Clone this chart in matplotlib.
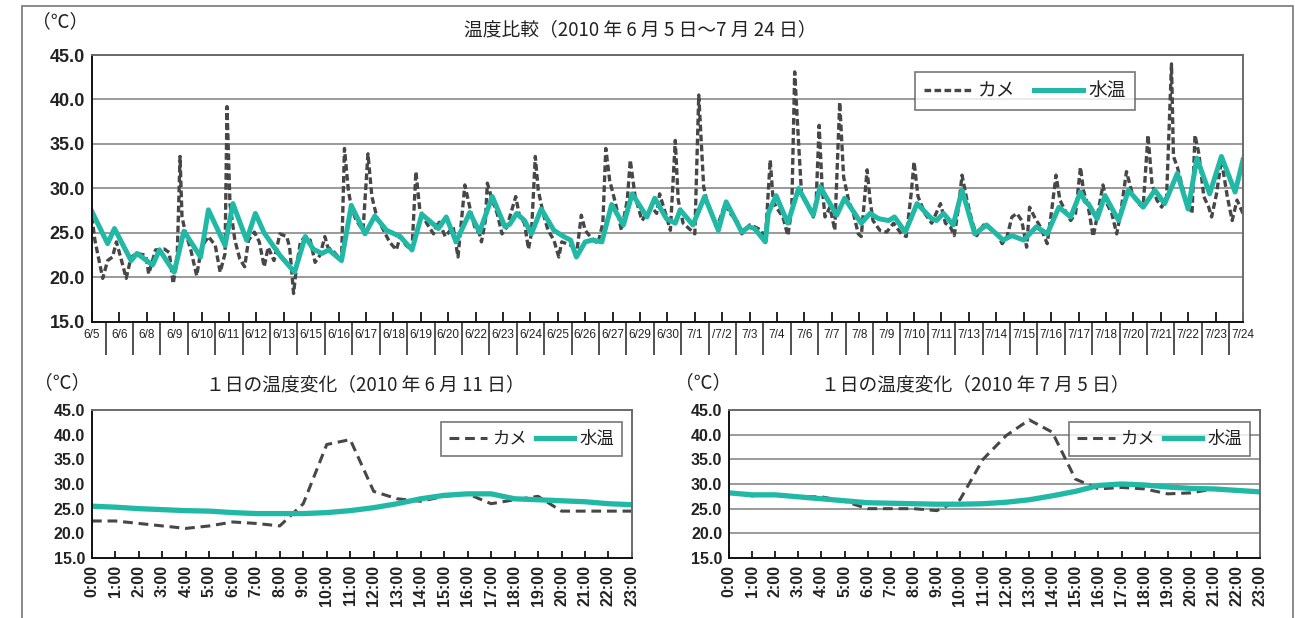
# %% import
import numpy as np
import matplotlib.pyplot as plt
from matplotlib.patches import Rectangle

plt.rcParams["font.family"] = ["Noto Sans CJK JP", "DejaVu Sans"]
plt.rcParams["figure.dpi"] = 100
plt.rcParams["figure.facecolor"] = "white"

KAME = "#474747"
WATER = "#22b8a6"
NUM = "Liberation Sans"

# %% data: 6/5 - 7/24 (hours from 6/5 0:00)
date_labels = ["6/5", "6/6", "6/8", "6/9", "6/10", "6/11", "6/12", "6/13", "6/15", "6/16",
               "6/17", "6/18", "6/19", "6/20", "6/22", "6/23", "6/24", "6/25", "6/26", "6/27",
               "6/29", "6/30", "7/1", "/7/2", "7/3", "7/4", "7/6", "7/7", "7/8", "7/9",
               "7/10", "7/11", "7/13", "7/14", "7/15", "7/16", "7/17", "7/18", "7/20", "7/21",
               "7/22", "7/23", "7/24"]
label_step = 28

kame_h = [0, 3, 11, 16, 21, 25, 30, 35, 40, 46, 55, 58, 65, 74, 79, 83, 87, 90, 92, 95,
          101, 107, 112, 119, 126, 131, 136, 138, 141, 146, 151, 156, 160, 166, 171, 176, 180, 186, 192, 199,
          202, 206, 209, 213, 218, 223, 228, 233, 238, 241, 247, 255, 258, 262, 265, 270, 277, 282, 286, 291,
          298, 304, 311, 315, 321, 327, 331, 335, 342, 349, 354, 361, 369, 374, 381, 386, 391, 396, 398, 402,
          404, 409, 414, 419, 424, 433, 437, 442, 446, 449, 453, 456, 461, 466, 472, 477, 480, 490, 495, 500,
          504, 509, 517, 522, 525, 529, 535, 541, 547, 550, 555, 562, 572, 577, 580, 586, 591, 596, 599, 604,
          616, 620, 623, 625, 628, 633, 638, 641, 647, 652, 659, 664, 672, 677, 684, 688, 693, 696, 699, 706,
          711, 715, 718, 722, 725, 730, 737, 740, 743, 746, 749, 754, 759, 764, 768, 773, 778, 783, 786, 792,
          795, 798, 805, 812, 819, 827, 832, 837, 840, 844, 851, 858, 867, 872, 877, 881, 885, 889, 894, 899,
          904, 911, 918, 925, 930, 935, 940, 945, 950, 955, 958, 963, 969, 976, 981, 985, 989, 994, 1000, 1005,
          1010, 1013, 1018, 1023, 1027, 1033, 1037, 1042, 1047, 1051, 1057, 1063, 1069, 1074, 1079, 1083, 1088, 1093, 1098, 1103,
          1105, 1109, 1114, 1119, 1124, 1127, 1131, 1136, 1141, 1144, 1149, 1154, 1160, 1165, 1170, 1176]
kame_t = [26.8, 24.2, 19.9, 21.9, 22.3, 24.0, 22.0, 19.9, 22.3, 22.7, 22.5, 20.4, 23.1, 23.2, 22.8, 19.3, 21.9, 33.6, 26.8, 25.3,
          23.1, 20.2, 23.4, 24.6, 23.6, 20.6, 22.7, 39.2, 28.3, 24.2, 22.1, 21.2, 24.2, 25.1, 24.0, 21.2, 23.4, 21.9, 24.9, 24.6,
          23.4, 18.2, 21.2, 24.0, 24.6, 24.2, 21.7, 22.5, 24.6, 23.4, 22.9, 21.9, 34.5, 29.8, 27.9, 26.4, 25.3, 33.9, 29.1, 26.8,
          25.3, 24.0, 23.1, 24.6, 23.6, 23.1, 31.9, 27.6, 26.1, 24.9, 26.4, 24.6, 25.7, 22.3, 30.4, 27.9, 25.7, 24.9, 24.0, 26.4,
          30.6, 28.7, 27.2, 24.9, 25.7, 29.1, 26.8, 26.1, 23.2, 24.9, 33.6, 29.8, 27.2, 25.3, 24.2, 22.3, 24.0, 23.6, 22.5, 27.0,
          25.3, 24.6, 23.8, 26.1, 34.5, 30.9, 28.3, 25.3, 28.7, 33.2, 29.1, 26.4, 27.9, 27.2, 29.4, 27.2, 25.3, 35.4, 28.7, 26.1,
          24.9, 40.5, 34.3, 30.2, 28.7, 27.2, 25.7, 26.4, 28.3, 27.2, 26.4, 24.9, 25.9, 25.7, 25.3, 24.2, 33.2, 28.7, 27.9, 26.8,
          24.7, 27.6, 43.1, 35.1, 29.4, 28.3, 26.8, 28.7, 37.1, 30.2, 26.8, 27.9, 25.3, 39.7, 31.3, 28.7, 27.2, 24.9, 24.6, 32.1,
          28.7, 26.4, 25.3, 25.1, 26.1, 24.9, 24.6, 29.4, 33.0, 29.1, 27.2, 26.1, 28.3, 26.1, 25.7, 24.7, 27.6, 31.5, 28.7, 26.4,
          24.7, 25.9, 25.5, 24.9, 23.8, 24.6, 26.8, 27.2, 26.4, 23.4, 27.9, 26.8, 25.7, 23.8, 27.9, 31.5, 28.7, 27.6, 26.4, 27.2,
          32.4, 29.8, 27.9, 24.6, 26.8, 30.4, 28.3, 27.2, 24.9, 27.2, 31.9, 29.4, 28.3, 27.9, 36.0, 30.6, 28.7, 27.9, 29.1, 44.0,
          33.6, 32.4, 30.2, 28.3, 27.2, 36.0, 33.9, 29.1, 27.9, 26.8, 29.4, 33.2, 29.1, 26.4, 28.7, 27.2]

water_h = [0, 16, 23, 40, 46, 62, 69, 84, 94, 111, 119, 136, 144, 158, 167, 176, 192, 207, 218, 226,
           235, 242, 255, 265, 279, 289, 301, 315, 327, 337, 354, 362, 372, 386, 396, 409, 422, 427, 434, 442,
           449, 459, 472, 482, 489, 495, 504, 511, 521, 531, 543, 552, 567, 575, 587, 596, 601, 614, 626, 640,
           648, 664, 671, 677, 688, 691, 699, 711, 722, 737, 744, 761, 769, 786, 795, 804, 814, 820, 831, 843,
           858, 863, 870, 880, 889, 902, 914, 931, 940, 952, 965, 976, 988, 1000, 1010, 1015, 1018, 1027, 1035, 1049,
           1059, 1074, 1086, 1096, 1109, 1120, 1129, 1142, 1154, 1168, 1176]
water_t = [27.4, 23.8, 25.5, 21.9, 22.7, 21.4, 23.1, 20.6, 25.2, 22.3, 27.6, 23.6, 28.3, 24.2, 27.2, 25.0, 22.5, 20.6, 24.6, 23.2,
           22.7, 23.1, 21.9, 28.1, 24.9, 26.9, 25.3, 24.6, 23.1, 27.1, 25.5, 26.8, 24.0, 27.3, 25.1, 29.1, 25.7, 26.0, 27.2, 26.4,
           24.9, 27.7, 25.3, 24.6, 24.2, 22.3, 24.0, 24.2, 24.0, 28.2, 25.9, 29.4, 26.8, 28.9, 26.6, 26.1, 27.6, 25.9, 29.1, 25.3,
           28.5, 25.1, 25.7, 25.5, 24.0, 27.2, 29.2, 26.1, 30.0, 27.0, 30.2, 27.0, 28.9, 26.1, 27.2, 26.6, 26.4, 26.8, 25.1, 28.3,
           26.6, 26.4, 27.2, 25.9, 29.8, 24.9, 25.9, 24.2, 24.7, 24.2, 25.7, 24.9, 27.9, 26.8, 29.6, 28.5, 28.3, 26.6, 29.2, 26.4,
           29.8, 27.9, 29.8, 28.3, 31.7, 27.7, 33.4, 29.4, 33.6, 29.6, 33.2]

# %% data: one day (hourly)
hour_labels = [f"{i}:00" for i in range(24)]
kame_0611 = [22.5, 22.5, 22.0, 21.5, 21.0, 21.5, 22.3, 22.0, 21.5, 26.0, 38.0, 39.0,
             28.5, 27.0, 26.5, 27.5, 28.0, 26.0, 26.8, 27.5, 24.5, 24.5, 24.5, 24.5]
water_0611 = [25.5, 25.3, 25.0, 24.8, 24.6, 24.5, 24.2, 24.0, 24.0, 24.0, 24.2, 24.6,
              25.2, 26.0, 27.0, 27.7, 28.0, 28.0, 27.0, 26.8, 26.6, 26.4, 26.0, 25.8]
kame_0705 = [28.2, 27.6, 27.9, 27.4, 27.4, 26.5, 25.0, 25.0, 25.0, 24.6, 26.8, 35.0,
             39.8, 43.0, 40.5, 31.0, 29.0, 29.3, 29.0, 28.0, 28.2, 29.0, 28.6, 28.5]
water_0705 = [28.2, 27.8, 27.8, 27.4, 27.0, 26.6, 26.2, 26.1, 26.0, 25.9, 25.9, 26.0,
              26.3, 26.8, 27.6, 28.5, 29.7, 30.0, 29.8, 29.4, 29.1, 29.0, 28.7, 28.4]

yticks = [15, 20, 25, 30, 35, 40, 45]

# %% figure
fig = plt.figure(figsize=(12.95, 6.18))
fig.add_artist(Rectangle((0.017, -0.02), 0.9815, 1.01, transform=fig.transFigure,
                         fill=False, edgecolor="#777777", lw=1.2))


def style_axes(ax, ysize):
    ax.set_ylim(15, 45)
    ax.set_yticks(yticks)
    ax.set_yticklabels([f"{v:.1f}" for v in yticks], fontsize=ysize,
                       family=NUM, fontweight="bold", color="#222222")
    ax.tick_params(axis="y", length=0, pad=5)
    for side in ["left", "bottom"]:
        ax.spines[side].set_color("#111111")
        ax.spines[side].set_linewidth(1.4)
    for side in ["top", "right"]:
        ax.spines[side].set_color("#6a6a6a")
        ax.spines[side].set_linewidth(1.4)


def add_legend(ax, anchor, size, hlen, colsp):
    leg = ax.legend(loc="upper right", bbox_to_anchor=anchor, ncol=2, fancybox=False,
                    edgecolor="#555555", fontsize=size, handlelength=hlen,
                    columnspacing=colsp, handletextpad=0.3, borderpad=0.45, borderaxespad=0)
    leg.get_frame().set_linewidth(1.2)
    for txt in leg.get_texts():
        txt.set_color("#222222")


# %% top: whole period
ax = fig.add_axes([0.0710, 0.479, 0.8888, 0.432])
ax.plot(kame_h, kame_t, color=KAME, lw=2.4, dashes=(2.0, 1.0), label="カメ")
ax.plot(water_h, water_t, color=WATER, lw=3.6, solid_joinstyle="round", label="水温")
style_axes(ax, 13)
ax.set_xlim(0, label_step * (len(date_labels) - 1))
ax.grid(axis="y", color="#9a9a9a", lw=1.4)
ax.set_axisbelow(True)
ax.set_xticks(np.arange(len(date_labels)) * label_step)
ax.set_xticklabels(date_labels, fontsize=8.5, family=NUM, color="#222222")
ax.set_xticks(np.arange(len(date_labels) - 1) * label_step + label_step / 2, minor=True)
ax.tick_params(axis="x", which="major", direction="in", length=7, width=1.2, pad=5)
ax.tick_params(axis="x", which="minor", direction="out", length=24, width=1.2, color="#333333")
add_legend(ax, (0.906, 0.936), 13.5, 2.6, 1.0)

fig.text(60 / 1295, 1 - 22 / 618, "（℃）", fontsize=13.5, ha="center", va="center", color="#222222")
fig.text(640 / 1295, 1 - 30 / 618, "温度比較（2010 年 6 月 5 日〜7 月 24 日）",
         fontsize=13.5, ha="center", va="center", color="#222222")

# %% bottom: one day charts
days = [
    ([0.0710, 0.0971, 0.417, 0.2395], kame_0611, water_0611, False,
     "１日の温度変化（2010 年 6 月 11 日）", 365, 62),
    ([0.5630, 0.0971, 0.410, 0.2395], kame_0705, water_0705, True,
     "１日の温度変化（2010 年 7 月 5 日）", 975, 703),
]
for rect, kame, water, grid, title, tx, ux in days:
    axd = fig.add_axes(rect)
    hrs = np.arange(len(hour_labels))
    axd.plot(hrs, kame, color=KAME, lw=2.2, dashes=(3.2, 1.9), label="カメ")
    axd.plot(hrs, water, color=WATER, lw=3.8, solid_joinstyle="round", label="水温")
    style_axes(axd, 11.5)
    axd.set_xlim(0, 23)
    axd.set_xticks(hrs)
    axd.set_xticklabels(hour_labels, rotation=90, fontsize=11.5, family=NUM,
                        fontweight="bold", color="#222222")
    axd.tick_params(axis="x", direction="in", length=5, width=1.2, pad=5)
    if grid:
        axd.grid(axis="y", color="#9a9a9a", lw=1.4)
        axd.set_axisbelow(True)
    add_legend(axd, (0.981, 0.919), 12.5, 2.2, 0.5)
    fig.text(ux / 1295, 1 - 383 / 618, "（℃）", fontsize=13.5, ha="center", va="center", color="#222222")
    fig.text(tx / 1295, 1 - 385 / 618, title, fontsize=13.5, ha="center", va="center", color="#222222")

fig.savefig("out.png", dpi=100)
